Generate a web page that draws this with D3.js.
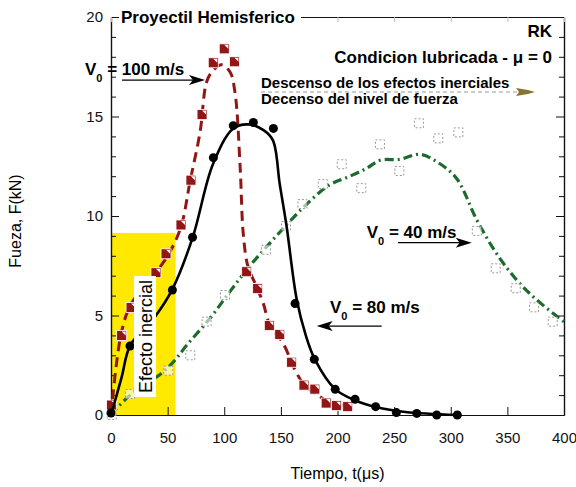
<!DOCTYPE html>
<html>
<head>
<meta charset="utf-8">
<script src="https://cdn.jsdelivr.net/npm/d3@7"></script>
<style>
	body { margin: 0; background: #fff; }
	svg { font-family: "Liberation Sans", Arial, sans-serif; }
</style>
</head>
<body>
<svg id="chart" width="576" height="487"></svg>
<script>
// V0 = 100 m/s (squares, dark red)
const redT = [0.5, 9.4, 17.7, 39.7, 48.6, 61.8, 70.6, 80.4, 90.3, 100, 109, 119.8, 129.5, 139.8, 149, 159.5, 170.4, 180, 190, 199, 209];
const redF = [0.5, 4.0, 5.4, 7.15, 8.1, 9.55, 11.8, 15.1, 17.7, 18.4, 17.75, 7.2, 6.35, 4.5, 4.05, 2.65, 1.5, 1.3, 0.6, 0.47, 0.42];
const redFitT = [0, 9, 18, 39, 52, 62, 70, 78.6, 84.5, 90, 97.7, 105, 109.5, 114, 116.8, 121, 128.6, 134.5, 140.4, 152, 162.5, 171, 184.5, 199, 212];
const redFitF = [0, 4.1, 5.6, 7.1, 8.2, 9.5, 11.8, 14.2, 16.75, 17.3, 17.6, 17.25, 16.2, 12.5, 9.1, 7.45, 6.45, 5.6, 4.5, 3.6, 2.26, 1.5, 0.92, 0.5, 0.55];

// V0 = 80 m/s (circles, black)
const blkT = [0, 16.8, 54.2, 72, 90.4, 108, 125.7, 143.4, 162.5, 179.5, 198, 215.5, 233.7, 252, 270, 287.6, 305.8];
const blkF = [0.1, 3.47, 6.28, 8.93, 12.93, 14.54, 14.7, 14.4, 5.6, 2.8, 1.29, 0.79, 0.42, 0.12, 0.08, 0, 0];
const blkFitT = [0, 9.4, 17, 39, 54, 72, 90, 108, 122, 135, 143, 149, 155, 164, 172, 180, 198, 215, 234, 260, 306];
const blkFitF = [0, 1.9, 3.5, 4.95, 6.3, 8.9, 12.6, 14.4, 14.6, 14.3, 13.8, 11.6, 9.5, 5.8, 4.0, 2.8, 1.3, 0.75, 0.4, 0.15, 0];

// V0 = 40 m/s (open squares, green line)
const grnT = [0.6, 16.8, 50.6, 70, 84.4, 100.7, 119.8, 136.9, 154.5, 169, 187, 203.7, 221, 237.5, 254.6, 272, 289, 306.7, 323, 339.7, 357.4, 373.5, 390];
const grnF = [0, 1.05, 2.23, 3.0, 4.69, 6.03, 7.2, 8.3, 9.5, 10.6, 11.6, 12.6, 11.4, 13.6, 12.26, 14.66, 13.9, 14.2, 9.25, 7.37, 6.37, 5.41, 4.69];
const grnFitT = [0, 3.5, 19, 44.7, 56.5, 66.8, 87.4, 105, 122.7, 137.5, 155, 172.8, 193, 211, 225.8, 237.5, 255, 272.8, 287.6, 305, 323, 340.6, 358, 376, 400];
const grnFitF = [0, 0.25, 1.1, 2.1, 2.76, 3.5, 4.86, 6.2, 7.5, 8.46, 9.55, 10.6, 11.56, 12.0, 12.4, 12.8, 12.85, 13.1, 12.73, 11.9, 9.8, 8.1, 6.8, 5.78, 4.69];

const xTicks = [0, 50, 100, 150, 200, 250, 300, 350, 400];
const yTicks = [0, 5, 10, 15, 20];
const yMinor = d3.range(0, 21).filter(v => v % 5 !== 0);

const plotL = 111, plotR = 564, plotT = 17, plotB = 415;
const font = "\"Liberation Sans\", Arial, sans-serif";

const svg = d3.select("#chart");
const x = d3.scaleLinear().domain([0, 400]).range([plotL, plotR]);
const y = d3.scaleLinear().domain([0, 20]).range([plotB, plotT]);

// yellow zone
svg.append("rect")
	.attr("x", x(0)).attr("y", y(9.15))
	.attr("width", x(57) - x(0)).attr("height", y(0) - y(9.15))
	.attr("fill", "#ffe900");

// axes
function styleAxis(g, col) {
	g.selectAll("path.domain").attr("stroke", "#111").attr("stroke-width", 1.2);
	g.selectAll(".tick line").attr("stroke", col || "#111").attr("stroke-width", 1);
	g.selectAll("text").attr("font-size", 15).attr("fill", "#111").attr("font-family", font);
}

svg.append("g").attr("transform", `translate(0,${plotB})`)
	.call(d3.axisBottom(x).tickValues(xTicks).tickFormat(d3.format("d")).tickSize(-8).tickSizeOuter(0).tickPadding(17))
	.call(g => styleAxis(g));

svg.append("g").attr("transform", `translate(${plotL},0)`)
	.call(d3.axisLeft(y).tickValues(yTicks).tickFormat(d3.format("d")).tickSize(-8).tickSizeOuter(0).tickPadding(8))
	.call(g => styleAxis(g));
svg.append("g").attr("transform", `translate(${plotL},0)`)
	.call(d3.axisLeft(y).tickValues(yMinor).tickFormat("").tickSize(-5).tickSizeOuter(0))
	.call(g => styleAxis(g));

svg.append("g").attr("transform", `translate(${plotR},0)`)
	.call(d3.axisRight(y).tickValues(yTicks).tickFormat("").tickSize(-8).tickSizeOuter(0))
	.call(g => styleAxis(g));
svg.append("g").attr("transform", `translate(${plotR},0)`)
	.call(d3.axisRight(y).tickValues(yMinor).tickFormat("").tickSize(-5).tickSizeOuter(0))
	.call(g => styleAxis(g));

svg.append("g").attr("transform", `translate(0,${plotT})`)
	.call(d3.axisTop(x).tickValues(xTicks).tickFormat("").tickSize(-5).tickSizeOuter(0))
	.call(g => styleAxis(g, "#bbb"));

const line = d3.line().x(d => x(d[0])).y(d => y(d[1])).curve(d3.curveCatmullRom.alpha(0.5));
const zip = (a, b) => a.map((v, i) => [v, b[i]]);

// green
svg.append("path").datum(zip(grnFitT, grnFitF))
	.attr("d", line).attr("fill", "none")
	.attr("stroke", "#1d6b2c").attr("stroke-width", 3.2)
	.attr("stroke-dasharray", "9,4,2,4");
svg.append("g").selectAll("rect").data(zip(grnT, grnF)).join("rect")
	.attr("x", d => x(d[0]) - 4.5).attr("y", d => y(d[1]) - 4.5)
	.attr("width", 9).attr("height", 9)
	.attr("fill", "#fff").attr("fill-opacity", 0.6)
	.attr("stroke", "#999").attr("stroke-width", 1).attr("stroke-dasharray", "2,2");

// red
svg.append("path").datum(zip(redFitT, redFitF))
	.attr("d", line).attr("fill", "none")
	.attr("stroke", "#921616").attr("stroke-width", 3)
	.attr("stroke-dasharray", "10,6");
const rs = svg.append("g").selectAll("g").data(zip(redT, redF)).join("g")
	.attr("transform", d => `translate(${x(d[0])},${y(d[1])})`);
rs.append("rect").attr("x", -5).attr("y", -5).attr("width", 10).attr("height", 10)
	.attr("fill", "#921616").attr("stroke", "#fff").attr("stroke-width", 0.8);
rs.append("path").attr("d", "M0,-4L4,-4L4,0Z").attr("fill", "#fff");

// black
svg.append("path").datum(zip(blkFitT, blkFitF))
	.attr("d", line).attr("fill", "none")
	.attr("stroke", "#000").attr("stroke-width", 2.6);
svg.append("g").selectAll("circle").data(zip(blkT, blkF)).join("circle")
	.attr("cx", d => x(d[0])).attr("cy", d => y(d[1])).attr("r", 4.5)
	.attr("fill", "#000");

// inertial label
svg.append("rect").attr("x", 134).attr("y", 276).attr("width", 22).attr("height", 121).attr("fill", "#fff");
svg.append("text")
	.attr("transform", "translate(152,336.5) rotate(-90)")
	.attr("text-anchor", "middle").attr("font-size", 18).attr("fill", "#000")
	.text("Efecto inercial");

// title over top border
svg.append("rect").attr("x", 119).attr("y", 6).attr("width", 182).attr("height", 20).attr("fill", "#fff");
svg.append("text").attr("x", 121).attr("y", 23)
	.attr("font-size", 17).attr("font-weight", "bold").text("Proyectil Hemisferico");

svg.append("text").attr("x", 552).attr("y", 37).attr("text-anchor", "end")
	.attr("font-size", 17).attr("font-weight", "bold").text("RK");
svg.append("text").attr("x", 552).attr("y", 63).attr("text-anchor", "end")
	.attr("font-size", 17).attr("font-weight", "bold").text("Condicion lubricada - \u03bc = 0");

svg.append("text").attr("x", 261).attr("y", 88)
	.attr("font-size", 15).attr("font-weight", "bold").text("Descenso de los efectos inerciales");
svg.append("text").attr("x", 261).attr("y", 104)
	.attr("font-size", 15).attr("font-weight", "bold").text("Decenso del nivel de fuerza");
svg.append("line").attr("x1", 261).attr("x2", 518).attr("y1", 92).attr("y2", 92)
	.attr("stroke", "#999").attr("stroke-width", 1).attr("stroke-dasharray", "4,3");
svg.append("path").attr("d", "M516,88L528,90L535,92L528,94L516,96L519,92Z").attr("fill", "#857530");

// velocity labels with arrows
function velLabel(px, py, val) {
	const t = svg.append("text").attr("x", px).attr("y", py)
		.attr("font-size", 17).attr("font-weight", "bold");
	t.append("tspan").text("V");
	t.append("tspan").attr("dy", 7).attr("font-size", 11).text("0");
	t.append("tspan").attr("dy", -7).text(` = ${val} m/s`);
}
function arrow(t0, t1, f) {
	const x0 = x(t0), x1 = x(t1), yy = y(f);
	const dir = x1 > x0 ? 1 : -1;
	svg.append("line").attr("x1", x0).attr("x2", x1 - dir * 10).attr("y1", yy).attr("y2", yy)
		.attr("stroke", "#000").attr("stroke-width", 1.2);
	svg.append("path")
		.attr("d", `M${x1},${yy}L${x1 - dir * 16},${yy - 5}L${x1 - dir * 12},${yy}L${x1 - dir * 16},${yy + 5}Z`)
		.attr("fill", "#000");
}
velLabel(85, 75, 100);
arrow(9.7, 83, 16.83);
velLabel(330, 313, 80);
arrow(239, 181.6, 4.47);
velLabel(366.7, 238, 40);
arrow(253.4, 318.5, 8.66);

// axis titles
svg.append("text").attr("x", (plotL + plotR) / 2).attr("y", 479)
	.attr("text-anchor", "middle").attr("font-size", 16).text("Tiempo, t(\u03bcs)");
svg.append("text").attr("transform", "translate(21,221) rotate(-90)")
	.attr("text-anchor", "middle").attr("font-size", 16).text("Fueza, F(kN)");
</script>
</body>
</html>
